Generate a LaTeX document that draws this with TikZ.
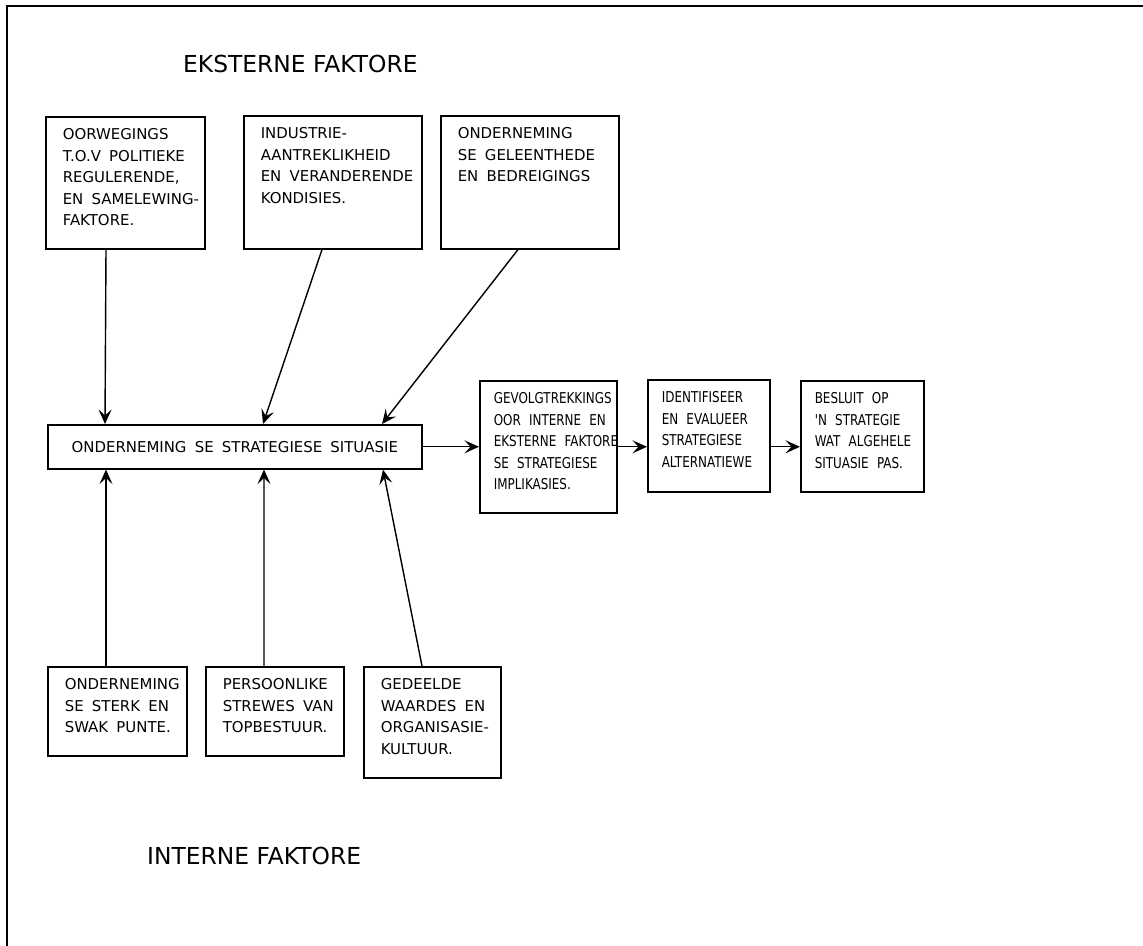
\documentclass[tikz,border=0pt]{standalone}
\usepackage{fontspec}
\setmainfont{DejaVu Sans}
\newfontfamily\smalletter{DejaVu Sans}[FakeStretch=0.8]
\usetikzlibrary{arrows.meta}
\hyphenpenalty=10000
\exhyphenpenalty=10000
\newcommand{\wydspasie}{\spaceskip=0.55em\relax}

\begin{document}
\begin{tikzpicture}[
    vak/.style={rectangle, draw, line width=0.9pt, anchor=north west, align=left,
        inner xsep=0.34cm, inner ysep=0.24cm, text height=0.22cm,
        font=\fontsize{8.5}{12.2}\selectfont, execute at begin node=\wydspasie},
    smalvak/.style={vak, inner xsep=0.28cm,
        font=\smalletter\fontsize{8.5}{12.2}\selectfont},
    titel/.style={anchor=base west, font=\fontsize{13.3}{16}\selectfont},
    pyl/.style={-{Stealth[length=2.9mm, width=2.6mm, inset=1.2mm]}, line width=0.8pt}
]
    \useasboundingbox (0,0) rectangle (22.86,-18.92);
    \draw[line width=1.2pt] (0.14,-18.92) -- (0.14,-0.12) -- (22.86,-0.12);

    % eksterne faktore
    \node[titel] (ekstern) at (3.54,-1.46) {EKSTERNE FAKTORE};
    \node[vak, text width=2.50cm, text depth=1.94cm] (oorw) at (0.90,-2.32)
        {OORWEGINGS\\T.O.V~POLITIEKE\\REGULERENDE,\\EN~SAMELEWING-\\FAKTORE.};
    \node[vak, text width=2.88cm, text depth=1.96cm] (indu) at (4.86,-2.30)
        {INDUSTRIE-\\AANTREKLIKHEID\\EN~VERANDERENDE\\KONDISIES.};
    \node[vak, text width=2.88cm, text depth=1.96cm] (geleent) at (8.80,-2.30)
        {ONDERNEMING\\SE~GELEENTHEDE\\EN~BEDREIGINGS};

    % strategiese situasie en verloop
    \node[vak, minimum width=7.48cm, minimum height=0.88cm] (sit) at (0.94,-8.48)
        {ONDERNEMING SE STRATEGIESE SITUASIE};
    \node[smalvak, text width=2.18cm, text depth=1.94cm] (gevolg) at (9.58,-7.60)
        {GEVOLGTREKKINGS\\OOR~INTERNE~EN\\EKSTERNE~FAKTORE\\SE~STRATEGIESE\\IMPLIKASIES.};
    \node[smalvak, text width=1.88cm, text depth=1.54cm] (identif) at (12.94,-7.58)
        {IDENTIFISEER\\EN~EVALUEER\\STRATEGIESE\\ALTERNATIEWE};
    \node[smalvak, text width=1.90cm, text depth=1.52cm] (besluit) at (16.00,-7.60)
        {BESLUIT~OP\\'N~STRATEGIE\\WAT~ALGEHELE\\SITUASIE~PAS.};

    % interne faktore
    \node[vak, text width=2.10cm, text depth=1.08cm] (sterk) at (0.94,-13.32)
        {ONDERNEMING\\SE~STERK~EN\\SWAK~PUNTE.};
    \node[vak, text width=2.08cm, text depth=1.08cm] (strewe) at (4.10,-13.32)
        {PERSOONLIKE\\STREWES~VAN\\TOPBESTUUR.};
    \node[vak, text width=2.06cm, text depth=1.52cm] (waardes) at (7.26,-13.32)
        {GEDEELDE\\WAARDES~EN\\ORGANISASIE-\\KULTUUR.};
    \node[titel] (intern) at (2.82,-17.28) {INTERNE FAKTORE};

    \draw[pyl] ([xshift=1.22cm]oorw.south west) -- ([xshift=1.16cm]sit.north west);
    \draw[pyl] ([xshift=1.58cm]indu.south west) -- ([xshift=4.32cm]sit.north west);
    \draw[pyl] ([xshift=1.56cm]geleent.south west) -- ([xshift=6.70cm]sit.north west);
    \draw[pyl] ([xshift=1.18cm]sterk.north west) -- ([xshift=1.18cm]sit.south west);
    \draw[pyl] ([xshift=1.18cm]strewe.north west) -- ([xshift=4.34cm]sit.south west);
    \draw[pyl] ([xshift=1.18cm]waardes.north west) -- ([xshift=6.72cm]sit.south west);
    \draw[pyl] (sit.east) -- (sit.east -| gevolg.west);
    \draw[pyl] (gevolg.east) -- (gevolg.east -| identif.west);
    \draw[pyl] (gevolg.east -| identif.east) -- (gevolg.east -| besluit.west);
\end{tikzpicture}
\end{document}
